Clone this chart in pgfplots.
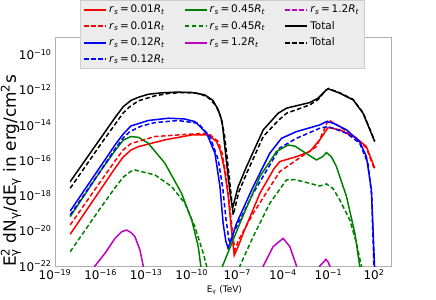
\documentclass[border=0pt]{standalone}
\usepackage{fontspec}
\setmainfont{DejaVu Sans}
\usepackage{pgfplots}
\pgfplotsset{compat=1.18}
\definecolor{mred}{rgb}{1,0,0}
\definecolor{mgreen}{rgb}{0,0.5,0}
\definecolor{mblue}{rgb}{0,0,1}
\definecolor{mmag}{rgb}{0.75,0,0.75}
\definecolor{framec}{RGB}{176,176,176}
\definecolor{legfill}{RGB}{236,236,236}
\definecolor{legdraw}{RGB}{204,204,204}
\newcommand{\rs}[1]{\textit{r}\textsubscript{\textit{s}}\,=\,#1\textit{R}\textsubscript{\textit{t}}}
\tikzset{dsh/.style={dash pattern=on 4.5bp off 2.5bp}}
\begin{document}
\begin{tikzpicture}
\useasboundingbox (0,0) rectangle (436bp,300bp);
\begin{axis}[
  at={(55bp,34bp)}, anchor=south west,
  scale only axis, width=336bp, height=229bp,
  xmode=log, ymode=log,
  xmin=1e-19, xmax=1318, ymin=1e-22, ymax=1e-9,
  axis line style={draw=framec, line width=0.8bp},
  major tick length=0pt,
  xminorticks=false, yminorticks=false,
  xtick={1e-19,1e-16,1e-13,1e-10,1e-7,1e-4,1e-1,1e2},
  xticklabels={10\textsuperscript{−19},10\textsuperscript{−16},10\textsuperscript{−13},10\textsuperscript{−10},10\textsuperscript{−7},10\textsuperscript{−4},10\textsuperscript{−1},10\textsuperscript{2}},
  ytick={1e-22,1e-20,1e-18,1e-16,1e-14,1e-12,1e-10},
  yticklabels={10\textsuperscript{−22},10\textsuperscript{−20},10\textsuperscript{−18},10\textsuperscript{−16},10\textsuperscript{−14},10\textsuperscript{−12},10\textsuperscript{−10}},
  tick label style={font=\fontsize{12}{14}\selectfont},
  xlabel={E\textsubscript{γ} (TeV)},
  xlabel style={at={(axis description cs:0.504,-0.105)}, anchor=center, font=\fontsize{9}{11}\selectfont},
  ylabel={E\rlap{\textsuperscript{2}}\textsubscript{γ} dN\textsubscript{γ}/dE\textsubscript{γ} in erg/cm\textsuperscript{2}s},
  ylabel style={at={(axis description cs:-0.131,0.415)}, anchor=center, font=\fontsize{17}{20}\selectfont},
  every axis plot/.append style={line width=1.5bp},
  legend columns=3,
  legend cell align=left,
  legend image code/.code={\draw[#1, line width=2bp] (0bp,0bp) -- (22bp,0bp);},
  legend style={at={(axis description cs:0.0744,1.1616)}, anchor=north west,
    fill=legfill, draw=legdraw,
    inner xsep=3bp, inner ysep=3bp, row sep=3bp,
    font=\fontsize{10.5}{12.5}\selectfont,
    /tikz/every even column/.append style={column sep=17bp}},
]
% ---- row 1 of legend
\addplot[mred] coordinates {
(1e-18,6.31e-21) (1e-16,2.19e-18) (1e-15,4.07e-17) (3.16e-15,1.58e-16) (1e-14,3.80e-16)
(3.16e-14,6.03e-16) (1.74e-12,1.45e-15) (1e-10,2.75e-15) (1.23e-9,2.75e-15) (4.37e-9,1.15e-15)
(7.94e-9,3.16e-16) (1.41e-8,3.16e-17) (2.51e-8,1e-18) (3.98e-8,1.58e-20) (6.31e-8,3.98e-22)
(1.26e-7,1.58e-21) (2.45e-7,7.24e-21) (3.09e-6,1.35e-18) (2.51e-5,3.16e-17) (6.31e-5,8.51e-17)
(7.94e-4,1.62e-16) (6.03e-3,3.16e-16) (2.69e-2,1.45e-15) (9.55e-2,7.24e-15) (0.562,5.37e-15)
(7.08,1.78e-15) (31.6,6.03e-16) (112,3.55e-17)};
\addlegendentry{\rs{0.01}}
\addplot[mgreen] coordinates {
(1e-18,6.31e-20) (1e-16,2.51e-17) (1e-15,3.98e-16) (3.16e-15,1.41e-15) (1e-14,2.24e-15)
(3.16e-14,2.0e-15) (1.38e-13,9.33e-16) (1.74e-12,6.76e-17) (2.14e-11,1.35e-18) (1e-10,4.07e-20)
(2.69e-10,1.26e-21) (3.98e-10,1e-22) (5.01e-10,3.16e-23)};
\addlegendentry{\rs{0.45}}
% magenta dashed: lies below the plotted range (invisible, as in the reference)
\addplot[mmag, dsh] coordinates {(1e-15,1e-30) (1e-14,1e-30)};
\addlegendentry{\rs{1.2}}
% ---- row 2
\addplot[mred, dsh] coordinates {
(1e-18,2.14e-20) (1e-16,6.31e-18) (1e-15,1.05e-16) (3.16e-15,3.98e-16) (1e-14,8.91e-16)
(3.80e-13,2.24e-15) (6.17e-11,3.02e-15) (1.23e-9,3.47e-15) (5.62e-9,1.15e-15) (1e-8,2.51e-16)
(1.78e-8,1.58e-17) (3.16e-8,2.51e-19) (5.01e-8,6.31e-21) (6.92e-8,8.13e-22) (1.26e-7,3.16e-21)
(1.12e-6,9.77e-20) (6.31e-5,2.29e-17) (7.94e-4,1.05e-16) (1.62e-2,6.03e-16) (5.01e-2,5.01e-15)
(9.55e-2,2.0e-14) (0.562,8.32e-15) (7.08,1.78e-15) (31.6,5.01e-16) (112,2.82e-17)};
\addlegendentry{\rs{0.01}}
\addplot[mgreen, dsh] coordinates {
(1e-18,6.46e-22) (1e-16,2.0e-19) (1e-15,3.16e-18) (3.16e-15,1.12e-17) (1e-14,2.40e-17)
(1.82e-14,2.82e-17) (3.80e-13,1.48e-17) (4.79e-12,3.24e-18) (3.55e-11,3.63e-19) (1.62e-10,1.70e-20)
(5.75e-10,5.25e-22) (9.55e-10,1e-22) (1.2e-9,3.16e-23)};
\addlegendentry{\rs{0.45}}
\addplot[black] coordinates {
(1e-18,6.17e-18) (1e-16,1.78e-15) (1e-15,3.02e-14) (3.16e-15,1.12e-13) (1e-14,2.51e-13)
(3.16e-14,3.80e-13) (1.38e-13,5.62e-13) (1e-12,6.76e-13) (1e-11,7.41e-13) (1e-10,7.08e-13)
(7.41e-10,5.13e-13) (2.51e-9,2.51e-13) (5.62e-9,7.24e-14) (1e-8,1.58e-14) (1.51e-8,6.03e-16)
(2.51e-8,1.20e-17) (3.63e-8,8.71e-19) (4.90e-8,1.91e-19) (1.15e-7,3.24e-18) (4.07e-7,4.37e-17)
(5.13e-6,5.37e-15) (4.90e-5,4.68e-14) (1.74e-4,9.12e-14) (6.03e-3,1.91e-13) (2.09e-2,3.39e-13)
(7.41e-2,1e-12) (9.55e-2,1.15e-12) (0.562,6.46e-13) (4.27,2.69e-13) (19.1,4.68e-14) (112,1.15e-15)};
\addlegendentry{Total}
% ---- row 3
\addplot[mblue] coordinates {
(1e-18,1.32e-19) (1e-16,4.57e-17) (1e-15,8.51e-16) (3.16e-15,3.16e-15) (1e-14,8.91e-15)
(1.38e-13,1.82e-14) (2.88e-12,2.45e-14) (3.16e-11,2.24e-14) (1.62e-10,1.58e-14) (9.55e-10,3.47e-15)
(3.39e-9,2.51e-16) (7.24e-9,3.24e-18) (1.17e-8,2.63e-20) (1.78e-8,2.51e-21) (2.51e-8,1e-21)
(3.98e-8,3.16e-21) (8.91e-8,2.63e-20) (1.12e-6,3.24e-18) (1.38e-5,2.51e-16) (8.13e-5,1.78e-15)
(7.94e-4,4.27e-15) (2.69e-2,1.02e-14) (7.41e-2,1.58e-14) (0.204,1.29e-14) (1.55,5.37e-15)
(11.5,1.15e-15) (31.6,1.62e-16) (67.6,2.09e-18) (112,5.01e-23)};
\addlegendentry{\rs{0.12}}
\addplot[mmag] coordinates {
(3.55e-17,3.16e-23) (4.27e-17,1e-22) (1.95e-16,5.25e-22) (8.91e-16,3.72e-21) (2.45e-15,8.91e-21)
(5.13e-15,1.10e-20) (1.0e-14,7.94e-21) (1.82e-14,4.68e-21) (3.89e-14,8.13e-22) (6.46e-14,1e-22)
(7.5e-14,3.16e-23)};
\addlegendentry{\rs{1.2}}
\addplot[black, dsh] coordinates {
(1e-18,2.57e-18) (1e-16,7.94e-16) (1e-15,1.26e-14) (3.16e-15,5.01e-14) (8.51e-15,1.12e-13)
(3.16e-14,2.40e-13) (3.80e-13,4.57e-13) (3.16e-12,6.31e-13) (3.16e-11,7.08e-13) (3.16e-10,6.31e-13)
(1.26e-9,3.55e-13) (3.98e-9,1.26e-13) (7.94e-9,3.16e-14) (1.41e-8,3.16e-15) (2.24e-8,1e-16)
(3.55e-8,2.51e-18) (5.37e-8,7.94e-20) (1.26e-7,1.58e-18) (4.07e-7,1.78e-17) (5.13e-6,2.24e-15)
(4.90e-5,1.78e-14) (1.74e-4,4.68e-14) (6.03e-3,1.41e-13) (2.09e-2,2.82e-13) (6.31e-2,8.91e-13)
(0.1,1.20e-12) (0.562,6.76e-13) (4.27,2.82e-13) (19.1,5.01e-14) (112,1.26e-15)};
\addlegendentry{Total}
% ---- row 4
\addplot[mblue, dsh] coordinates {
(1e-18,7.94e-20) (1e-16,2.51e-17) (1e-15,5.01e-16) (3.16e-15,1.91e-15) (8.51e-15,4.27e-15)
(5.01e-14,8.91e-15) (3.80e-13,1.38e-14) (1.26e-11,1.82e-14) (2.69e-10,1.26e-14) (1.58e-9,2.24e-15)
(5.62e-9,1.05e-16) (1.12e-8,2.51e-18) (1.78e-8,5.01e-20) (2.82e-8,3.16e-21) (3.24e-8,1.95e-21)
(5.01e-8,6.31e-21) (1.12e-6,1.35e-18) (6.31e-5,5.01e-16) (7.94e-4,1.78e-15) (2.69e-2,6.61e-15)
(9.55e-2,8.32e-15) (1.55,3.47e-15) (11.5,9.33e-16) (39.8,6.76e-17) (70.8,1e-18) (100,5.01e-23)};
\addlegendentry{\rs{0.12}}
% ---- further pieces of the same series (no legend entry)
\addplot[mgreen, forget plot] coordinates {
(8.91e-9,3.16e-23) (1.07e-8,1e-22) (1.48e-7,2.63e-20) (3.09e-6,1.20e-17) (3.80e-5,3.16e-16)
(2.24e-4,7.41e-16) (6.31e-4,6.31e-16) (2.19e-3,3.16e-16) (1.62e-2,1.05e-16) (3.98e-2,1.58e-16)
(7.41e-2,2.75e-16) (0.158,1.58e-16) (0.339,4.37e-17) (1.55,8.71e-19) (5.50,7.24e-21)
(11.5,1e-22) (14,3.16e-23)};
\addplot[mgreen, dsh, forget plot] coordinates {
(1.0e-7,3.16e-23) (1.48e-7,1e-22) (1.12e-6,4.68e-21) (1.38e-5,3.63e-19) (1.74e-4,7.76e-18)
(6.31e-4,7.94e-18) (2.19e-3,6.17e-18) (2.69e-2,3.47e-18) (7.41e-2,4.57e-18) (0.2,2.51e-18)
(0.562,5.62e-19) (2.57,4.07e-20) (7.08,1.95e-21) (14.8,1e-22) (18,3.16e-23)};
\addplot[mmag, forget plot] coordinates {
(4.5e-6,3.16e-23) (5.13e-6,1e-22) (2.29e-5,1.26e-21) (1.05e-4,3.72e-21) (2.88e-4,1.26e-21)
(7.94e-4,1e-22) (9e-4,3.16e-23)};
\addplot[mmag, forget plot] coordinates {
(2.4e-2,3.16e-23) (2.69e-2,1e-22) (4.5e-2,1.58e-22) (6.76e-2,2.40e-22) (9.5e-2,1.7e-22)
(0.123,1e-22) (0.14,3.16e-23)};
\end{axis}
\end{tikzpicture}
\end{document}
